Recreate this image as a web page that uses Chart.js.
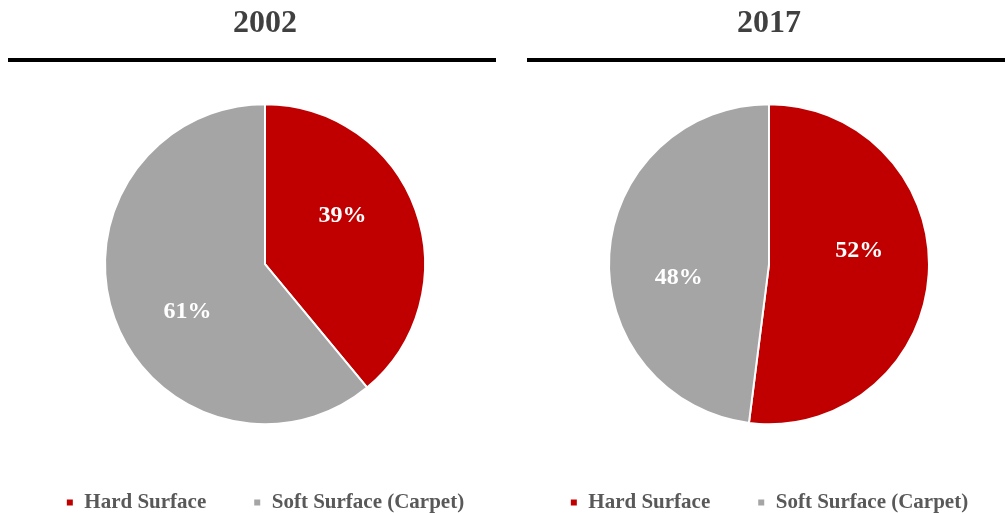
<!DOCTYPE html>
<html lang="en">
  <head>
    <meta charset="UTF-8" />
    <title>Hard vs Soft Surface</title>
    <script src="https://cdn.jsdelivr.net/npm/chart.js"></script>
    <style>
      html, body { margin: 0; padding: 0; background: #fff; overflow: hidden; width: 1005px; height: 513px; }
      .wrap { position: absolute; top: 0; width: 530px; height: 523px; }
      .rule { position: absolute; top: 58px; height: 4px; background: #000; }
    </style>
  </head>
  <body>
    <div class="rule" style="left:8px;width:488px"></div>
    <div class="rule" style="left:527px;width:478px"></div>
    <div class="wrap" style="left:0px"><canvas id="chart2002"></canvas></div>
    <div class="wrap" style="left:504px"><canvas id="chart2017"></canvas></div>

    <script>
      // data
      const categories = ['Hard Surface', 'Soft Surface (Carpet)'];
      const years = ['2002', '2017'];
      const share2002 = [39, 61];
      const share2017 = [52, 48];
      const sliceColors = ['#C00000', '#A5A5A5'];

      const serif = '"Liberation Serif", "Times New Roman", serif';

      // white % labels inside slices (placed a bit anticlockwise of the middle, like the original)
      const pctLabels = {
        id: 'pctLabels',
        afterDatasetsDraw(chart, args, opts) {
          const ctx = chart.ctx;
          const meta = chart.getDatasetMeta(0);
          ctx.save();
          ctx.font = 'bold 24px ' + serif;
          ctx.fillStyle = '#ffffff';
          ctx.textAlign = 'center';
          ctx.textBaseline = 'middle';
          meta.data.forEach((arc, i) => {
            const p = arc.getProps(['x', 'y', 'startAngle', 'endAngle', 'outerRadius'], true);
            const mid = (p.startAngle + p.endAngle) / 2 + opts.shift;
            const r = p.outerRadius * opts.dist;
            ctx.fillText(chart.data.datasets[0].data[i] + '%', p.x + Math.cos(mid) * r, p.y + Math.sin(mid) * r);
          });
          ctx.restore();
        }
      };

      function makePie(id, year, values) {
        return new Chart(document.getElementById(id), {
          type: 'pie',
          data: {
            labels: categories,
            datasets: [{
              data: values,
              backgroundColor: sliceColors,
              borderColor: '#ffffff',
              borderWidth: 2,
              radius: 160
            }]
          },
          options: {
            responsive: true,
            maintainAspectRatio: false,
            animation: false,
            layout: { padding: 0 },
            plugins: {
              title: {
                display: true,
                text: year,
                color: '#404040',
                font: { family: serif, size: 32, weight: 'bold' },
                padding: { top: 5, bottom: 40 }
              },
              legend: {
                position: 'bottom',
                labels: {
                  boxWidth: 8,
                  boxHeight: 8,
                  padding: 47,
                  color: '#595959',
                  font: { family: serif, size: 21, weight: 'bold' }
                }
              },
              tooltip: { enabled: false },
              pctLabels: { shift: -12 * Math.PI / 180, dist: 0.57 }
            }
          },
          plugins: [pctLabels]
        });
      }

      makePie('chart2002', years[0], share2002);
      makePie('chart2017', years[1], share2017);
    </script>
  </body>
</html>
